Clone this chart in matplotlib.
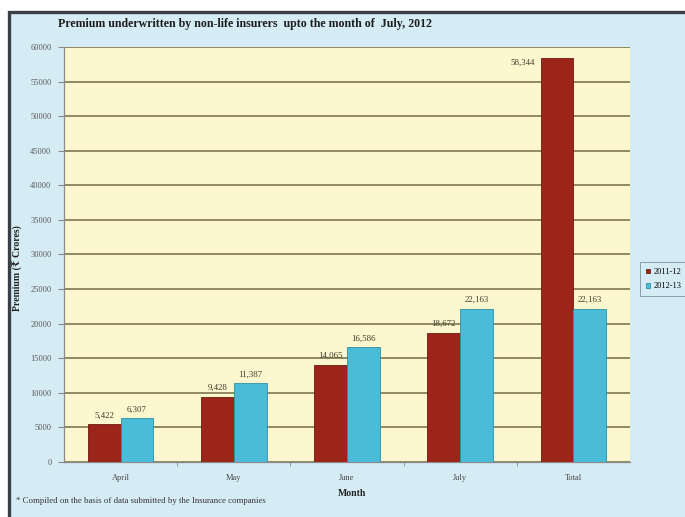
import matplotlib
matplotlib.use("Agg")
import matplotlib.pyplot as plt
from matplotlib.patches import Rectangle
import numpy as np

months = ["April", "May", "June", "July", "Total"]
series_names = ["2011-12", "2012-13"]
premium_2011_12 = [5422, 9428, 14065, 18672, 58344]
premium_2012_13 = [6307, 11387, 16586, 22163, 22163]
y_ticks = list(range(0, 60001, 5000))

red = "#9c2418"
cyan = "#4bbcd8"
cream = "#fdf7d0"
sky = "#d6ecf5"
grid_col = "#746a44"
serif = ["Liberation Serif", "DejaVu Serif", "DejaVu Sans"]

fig = plt.figure(figsize=(6.85, 5.17), dpi=100)
fig.patch.set_facecolor("white")

# light-blue chart panel with a dark frame on the top and left
panel = Rectangle((9 / 685, -0.05), 1.2, 1 - 12 / 517 + 0.05,
                  transform=fig.transFigure, facecolor=sky,
                  edgecolor="#3a3f45", linewidth=2.4, zorder=-5)
fig.patches.append(panel)

ax = fig.add_axes([64 / 685, 1 - 462 / 517, (630 - 64) / 685, (462 - 47) / 517])
ax.set_facecolor(cream)

x = np.arange(len(months))
w = 0.29
b1 = ax.bar(x - w / 2, premium_2011_12, w, color=red, edgecolor="#6e1a10",
            linewidth=0.6, label=series_names[0], zorder=3)
b2 = ax.bar(x + w / 2, premium_2012_13, w, color=cyan, edgecolor="#2f8fa6",
            linewidth=0.6, label=series_names[1], zorder=3)

def fmt(v):
    return f"{v:,}"

lbl_kw = dict(fontsize=6.3, color="#3a3a2a", family=serif)
for i, (r, v) in enumerate(zip(b1, premium_2011_12)):
    if i == len(months) - 1:
        ax.text(r.get_x() - 0.05, v - 600, fmt(v), ha="right",
                va="center", **lbl_kw)
    else:
        ax.text(r.get_x() + r.get_width() / 2, v + 700, fmt(v), ha="center",
                va="bottom", **lbl_kw)
for r, v in zip(b2, premium_2012_13):
    ax.text(r.get_x() + r.get_width() / 2, v + 700, fmt(v), ha="center",
            va="bottom", **lbl_kw)

ax.set_xlim(-0.5, len(months) - 0.5)
ax.set_ylim(0, 60000)
ax.set_yticks(y_ticks)
ax.set_yticklabels([str(t) for t in y_ticks], fontsize=6, color="#5a5a5a",
                   family=serif)
ax.set_xticks(x)
ax.set_xticklabels(months, fontsize=6, color="#444444", family=serif)
ax.set_xticks(np.arange(0.5, len(months) - 0.5, 1), minor=True)
ax.tick_params(axis="x", which="major", length=0, pad=9)
ax.tick_params(axis="x", which="minor", length=3, color="#888888")
ax.tick_params(axis="y", length=4, color="#888888", pad=5)

ax.yaxis.grid(True, color=grid_col, linewidth=1.1, zorder=1)
ax.set_axisbelow(True)
for s in ["top", "right"]:
    ax.spines[s].set_visible(False)
for s in ["left", "bottom"]:
    ax.spines[s].set_color("#8a8a8a")
    ax.spines[s].set_linewidth(0.9)

fig.text(58 / 685, 1 - 24 / 517,
         "Premium underwritten by non-life insurers  upto the month of  July, 2012",
         ha="left", va="center", fontsize=8.6, fontweight="bold",
         color="#1c1c1c", family=serif)
fig.text(352 / 685, 1 - 493 / 517, "Month", ha="center", va="center",
         fontsize=7, fontweight="bold", color="#222222", family=serif)
fig.text(18 / 685, 1 - 268 / 517, "Premium (\u20b9 Crores)", rotation=90,
         ha="center", va="center", fontsize=7, fontweight="bold",
         color="#222222", family=serif)
fig.text(16 / 685, 1 - 501 / 517,
         "* Compiled on the basis of data submitted by the Insurance companies",
         ha="left", va="center", fontsize=6.3, color="#333333", family=serif)

leg = fig.legend(handles=[b1, b2], labels=series_names,
                 loc="upper left", bbox_to_anchor=(640 / 685, 1 - 262 / 517),
                 bbox_transform=fig.transFigure, frameon=True,
                 handlelength=0.5, handleheight=0.5, handletextpad=0.4,
                 borderpad=0.7, labelspacing=0.8, fancybox=False,
                 borderaxespad=0.0, prop={"family": serif, "size": 6})
leg.get_frame().set_edgecolor("#7a8a99")
leg.get_frame().set_facecolor(sky)
leg.get_frame().set_linewidth(0.7)

fig.savefig("out.png", dpi=100, facecolor=fig.get_facecolor())
